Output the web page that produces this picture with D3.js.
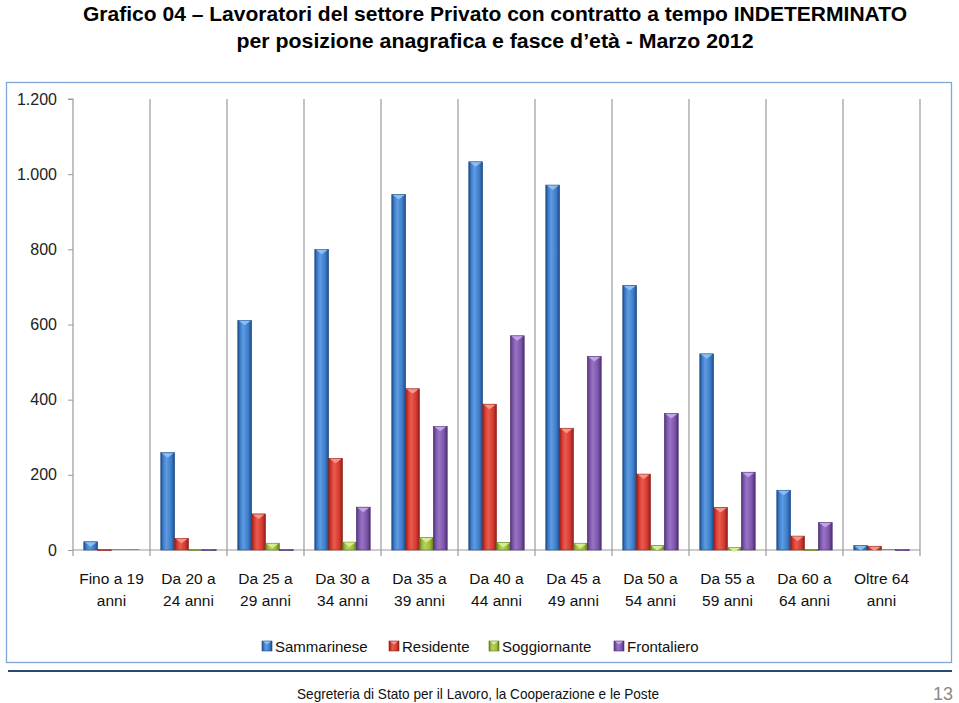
<!DOCTYPE html>
<html>
<head>
<meta charset="utf-8">
<script src="https://cdn.jsdelivr.net/npm/d3@7"></script>
<style>
  html, body { margin: 0; padding: 0; background: #fff; }
  svg { display: block; font-family: "Liberation Sans", Arial, sans-serif; }
</style>
</head>
<body>
<svg id="chart" width="959" height="703"></svg>
<script>
// ---- data ----
const categories = [
  ["Fino a 19", "anni"], ["Da 20 a", "24 anni"], ["Da 25 a", "29 anni"], ["Da 30 a", "34 anni"],
  ["Da 35 a", "39 anni"], ["Da 40 a", "44 anni"], ["Da 45 a", "49 anni"], ["Da 50 a", "54 anni"],
  ["Da 55 a", "59 anni"], ["Da 60 a", "64 anni"], ["Oltre 64", "anni"]
];
const seriesNames = ["Sammarinese", "Residente", "Soggiornante", "Frontaliero"];
const sammarinese = [22, 259, 611, 800, 946, 1033, 971, 704, 522, 159, 12];
const residente   = [1, 31, 96, 244, 429, 388, 324, 202, 113, 37, 10];
const soggiornante= [0, 1, 18, 21, 33, 20, 18, 12, 7, 1, 0];
const frontaliero = [0, 1, 1, 114, 329, 570, 515, 363, 207, 73, 1];
const yTicks = [0, 200, 400, 600, 800, 1000, 1200];
const yTickLabels = ["0", "200", "400", "600", "800", "1.000", "1.200"];
const title1 = "Grafico 04 \u2013 Lavoratori del settore Privato con contratto a tempo INDETERMINATO";
const title2 = "per posizione anagrafica e fasce d\u2019et\u00e0  - Marzo 2012";
const footer = "Segreteria di Stato per il Lavoro, la Cooperazione e le Poste";
const pageNum = "13";

const seriesValues = [sammarinese, residente, soggiornante, frontaliero];
const palette = [
  {mid: "#3d7dcb", light: "#5e9be0", dark: "#1f4b86", cap: "#8fc0f2"},
  {mid: "#d63a30", light: "#ea5b4f", dark: "#8e1f1a", cap: "#f39a8e"},
  {mid: "#9cbc3a", light: "#b6d45a", dark: "#5f7a1c", cap: "#d9ee95"},
  {mid: "#7e56aa", light: "#9874c6", dark: "#4c2f72", cap: "#c4a8e6"}
];

const svg = d3.select("#chart");
const defs = svg.append("defs");
palette.forEach((p, i) => {
  const g = defs.append("linearGradient").attr("id", "grad" + i)
    .attr("x1", "0%").attr("x2", "100%").attr("y1", "0%").attr("y2", "0%");
  g.append("stop").attr("offset", "0%").attr("stop-color", p.dark);
  g.append("stop").attr("offset", "18%").attr("stop-color", p.mid);
  g.append("stop").attr("offset", "40%").attr("stop-color", p.light);
  g.append("stop").attr("offset", "75%").attr("stop-color", p.mid);
  g.append("stop").attr("offset", "100%").attr("stop-color", p.dark);
});

// ---- title ----
svg.append("text").attr("x", 495).attr("y", 21).attr("text-anchor", "middle")
  .attr("font-weight", "bold").attr("font-size", 20)
  .attr("textLength", 824).attr("lengthAdjust", "spacingAndGlyphs")
  .attr("fill", "#000").text(title1);
svg.append("text").attr("x", 495).attr("y", 48).attr("text-anchor", "middle")
  .attr("font-weight", "bold").attr("font-size", 20)
  .attr("textLength", 517).attr("lengthAdjust", "spacingAndGlyphs")
  .attr("fill", "#000").text(title2);

// ---- chart frame ----
svg.append("rect").attr("x", 6.5).attr("y", 82.5).attr("width", 945).attr("height", 580)
  .attr("fill", "#fff").attr("stroke", "#7fa6d6").attr("stroke-width", 1.3);

// ---- scales ----
const x0 = d3.scaleBand().domain(d3.range(categories.length)).range([73, 920]).padding(0);
const x1 = d3.scaleBand().domain(seriesNames)
  .range([x0.bandwidth() * 0.14, x0.bandwidth() * 0.86]).padding(0);
const y = d3.scaleLinear().domain([0, 1200]).range([550, 99]);

// vertical gridlines at category boundaries
const bounds = d3.range(categories.length + 1).map(i => i < categories.length ? x0(i) : x0.range()[1]);
svg.append("g").selectAll("line").data(bounds.slice(1)).join("line")
  .attr("x1", d => d).attr("x2", d => d).attr("y1", y(1200)).attr("y2", 556)
  .attr("stroke", "#9a9a9a").attr("stroke-width", 1.2);

// y axis
const yAxis = d3.axisLeft(y).tickValues(yTicks).tickSize(5)
  .tickFormat((d, i) => yTickLabels[i]);
const ya = svg.append("g").attr("transform", "translate(73,0)").call(yAxis);
ya.select(".domain").attr("stroke", "#9a9a9a").attr("stroke-width", 1.2)
  .attr("d", "M-5," + y(1200) + "H0V556");
ya.selectAll(".tick line").attr("stroke", "#9a9a9a");
ya.selectAll(".tick text").attr("font-size", 16).attr("fill", "#222")
  .attr("font-family", "Liberation Sans, Arial, sans-serif").attr("x", -16);

// x axis baseline
svg.append("line").attr("x1", 73).attr("x2", 920).attr("y1", y(0)).attr("y2", y(0))
  .attr("stroke", "#9a9a9a").attr("stroke-width", 1.2);

// ---- bars ----
const barData = [];
categories.forEach((c, ci) => seriesNames.forEach((s, si) => {
  barData.push({ci, si, s, v: seriesValues[si][ci]});
}));
const bw = x1.bandwidth();
const bars = svg.append("g").selectAll("g").data(barData).join("g")
  .attr("transform", d => `translate(${x0(d.ci) + x1(d.s)},0)`);
bars.append("rect")
  .attr("x", 0).attr("width", bw)
  .attr("y", d => y(d.v) - (d.v === 0 ? 1 : 0))
  .attr("height", d => Math.max(y(0) - y(d.v), 1))
  .attr("fill", d => d.v === 0 ? "#8a8a8a" : `url(#grad${d.si})`)
  .attr("stroke", d => d.v === 0 ? "none" : palette[d.si].dark)
  .attr("stroke-width", 0.6);
bars.filter(d => d.v >= 6).append("path")
  .attr("d", d => {
    const yt = y(d.v);
    return `M1,${yt + 0.5} H${bw - 1} L${bw * 0.5},${yt + 5} Z`;
  })
  .attr("fill", d => palette[d.si].cap).attr("opacity", 0.95);

// ---- x labels ----
const xl = svg.append("g").selectAll("text").data(categories).join("text")
  .attr("text-anchor", "middle").attr("font-size", 15.5).attr("fill", "#111")
  .attr("transform", (d, i) => `translate(${x0(i) + x0.bandwidth() / 2},0)`);
xl.append("tspan").attr("x", 0).attr("y", 584).text(d => d[0]);
xl.append("tspan").attr("x", 0).attr("y", 606).text(d => d[1]);

// ---- legend ----
const legendX = [262, 389, 489, 614];
const lg = svg.append("g").selectAll("g").data(seriesNames).join("g")
  .attr("transform", (d, i) => `translate(${legendX[i]},641)`);
lg.append("rect").attr("width", 10).attr("height", 10)
  .attr("fill", (d, i) => `url(#grad${i})`).attr("stroke", (d, i) => palette[i].dark).attr("stroke-width", 0.6);
lg.append("path").attr("d", "M1,0.5 H9 L5,3.5 Z").attr("fill", (d, i) => palette[i].cap);
lg.append("text").attr("x", 13).attr("y", 11).attr("font-size", 15).attr("fill", "#111").text(d => d);

// ---- footer ----
svg.append("line").attr("x1", 8).attr("x2", 952).attr("y1", 671).attr("y2", 671)
  .attr("stroke", "#2a4a72").attr("stroke-width", 2);
svg.append("text").attr("x", 478).attr("y", 699).attr("text-anchor", "middle")
  .attr("font-size", 15).attr("textLength", 362).attr("lengthAdjust", "spacingAndGlyphs")
  .attr("fill", "#111").text(footer);
svg.append("text").attr("x", 953).attr("y", 700).attr("text-anchor", "end")
  .attr("font-size", 18).attr("fill", "#8a8a8a").text(pageNum);
</script>
</body>
</html>
